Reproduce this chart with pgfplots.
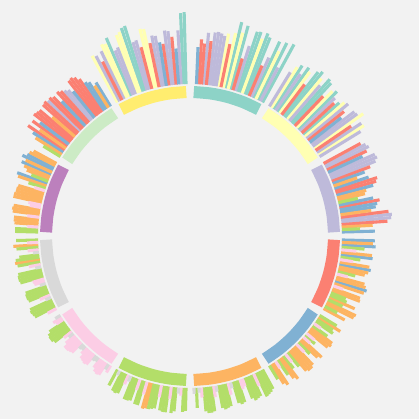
\documentclass[border=0pt]{standalone}
\usepackage{pgfplots}
\usepackage{pgfplotstable}
\pgfplotsset{compat=1.18}
\definecolor{bgc}{HTML}{F2F2F2}
\definecolor{cTeal}{HTML}{8DD3C7}
\definecolor{cLYel}{HTML}{FFFFB3}
\definecolor{cLav}{HTML}{BEBADA}
\definecolor{cSal}{HTML}{FB8072}
\definecolor{cBlue}{HTML}{80B1D3}
\definecolor{cOra}{HTML}{FDB462}
\definecolor{cGreen}{HTML}{B3DE69}
\definecolor{cPink}{HTML}{FCCDE5}
\definecolor{cGray}{HTML}{D9D9D9}
\definecolor{cPur}{HTML}{BC80BD}
\definecolor{cLGr}{HTML}{CCEBC5}
\definecolor{cYel}{HTML}{FFED6F}
% b = group start angle, i = bar slot, r = outer radius, c = colour index
\pgfplotstableread{
b i r c
60 1 218 0
60 2 190 2
60 3 216 0
60 4 205 1
60 5 214 0
60 6 195 2
60 7 185 3
60 8 214 0
60 9 217 0
60 10 210 1
60 11 216 0
60 12 215 0
60 13 199 2
60 14 185 3
60 15 218 0
60 16 210 1
60 17 220 0
60 18 208 1
60 19 196 3
60 20 206 1
60 21 203 2
60 22 205 2
60 23 206 2
60 24 205 2
60 25 196 3
60 26 204 2
60 27 193 3
60 28 197 3
60 29 189 4
30 1 200 2
30 2 206 1
30 3 205 2
30 4 195 3
30 5 212 1
30 6 207 2
30 7 206 2
30 8 192 4
30 9 198 3
30 10 206 2
30 11 204 1
30 12 200 0
30 13 196 3
30 14 200 2
30 15 206 0
30 16 203 1
30 17 193 3
30 18 208 0
30 19 210 0
30 20 199 2
30 21 205 1
30 22 211 0
30 23 208 0
30 24 190 3
30 25 203 1
30 26 206 0
30 27 196 2
30 28 204 0
30 29 200 1
30 30 192 2
0 1 185 4
0 2 170 6
0 3 183 5
0 4 198 3
0 5 202 2
0 6 203 2
0 7 200 3
0 8 183 5
0 9 188 4
0 10 190 4
0 11 193 3
0 12 187 4
0 13 172 6
0 14 180 5
0 15 182 5
0 16 190 4
0 17 194 3
0 18 196 3
0 19 188 4
0 20 177 5
0 21 186 4
0 22 193 3
0 23 200 2
0 24 203 2
0 25 202 2
0 26 190 4
0 27 196 3
0 28 200 2
0 29 198 2
0 30 194 3
-30 1 176 5
-30 2 166 6
-30 3 183 5
-30 4 184 5
-30 5 168 6
-30 6 180 5
-30 7 170 6
-30 8 168 6
-30 9 182 5
-30 10 181 5
-30 11 162 7
-30 12 183 5
-30 13 185 4
-30 14 183 5
-30 15 181 5
-30 16 163 7
-30 17 170 6
-30 18 179 5
-30 19 182 5
-30 20 184 4
-30 21 182 5
-30 22 165 7
-30 23 172 6
-30 24 184 4
-30 25 183 5
-30 26 167 7
-30 27 175 6
-30 28 186 4
-30 29 183 5
-30 30 185 4
-60 1 168 6
-60 2 175 5
-60 3 178 5
-60 4 160 7
-60 5 170 6
-60 6 176 5
-60 7 179 5
-60 8 168 6
-60 9 162 7
-60 10 170 6
-60 11 178 5
-60 12 180 5
-60 13 180 5
-60 14 178 5
-60 15 163 7
-60 16 168 6
-60 17 176 5
-60 18 179 5
-60 19 161 7
-60 20 165 6
-60 21 162 7
-60 22 177 5
-60 23 179 5
-60 24 178 5
-60 25 170 6
-60 26 160 7
-60 27 173 6
-60 28 171 6
-60 29 178 5
-60 30 172 6
-90 1 158 8
-90 2 172 6
-90 3 157 8
-90 4 162 7
-90 5 176 6
-90 6 178 6
-90 7 178 6
-90 8 177 6
-90 9 163 7
-90 10 158 8
-90 11 175 6
-90 12 177 6
-90 13 176 6
-90 14 175 6
-90 15 164 7
-90 16 158 8
-90 17 174 6
-90 18 176 6
-90 19 175 6
-90 20 162 7
-90 21 160 7
-90 22 174 6
-90 23 177 6
-90 24 176 6
-90 25 175 6
-90 26 165 7
-90 27 178 6
-90 28 177 6
-90 29 176 6
-90 30 174 6
-120 1 170 6
-120 2 157 8
-120 3 173 6
-120 4 174 6
-120 5 173 6
-120 6 162 7
-120 7 158 8
-120 8 176 6
-120 9 176 6
-120 10 175 6
-120 11 163 7
-120 12 177 6
-120 13 177 6
-120 14 165 7
-120 15 179 5
-120 16 178 5
-120 17 178 6
-120 18 177 6
-120 19 176 6
-120 20 164 7
-120 21 177 6
-120 22 178 6
-120 23 178 6
-120 24 164 7
-120 25 178 6
-120 26 176 6
-120 27 158 8
-120 28 160 7
-120 29 176 6
-120 30 175 6
-150 1 158 8
-150 2 162 7
-150 3 160 7
-150 4 170 6
-150 5 173 6
-150 6 174 6
-150 7 174 6
-150 8 172 6
-150 9 162 7
-150 10 158 8
-150 11 164 7
-150 12 168 7
-150 13 168 7
-150 14 167 7
-150 15 166 7
-150 16 158 8
-150 17 157 8
-150 18 160 7
-150 19 164 7
-150 20 165 7
-150 21 166 7
-150 22 165 7
-150 23 158 8
-150 24 157 8
-150 25 163 7
-150 26 166 7
-150 27 167 7
-150 28 166 7
-150 29 158 8
-150 30 160 7
-180 1 174 6
-180 2 163 7
-180 3 177 5
-180 4 174 6
-180 5 163 7
-180 6 158 8
-180 7 172 6
-180 8 176 6
-180 9 177 5
-180 10 175 6
-180 11 164 7
-180 12 158 8
-180 13 176 6
-180 14 177 6
-180 15 177 6
-180 16 176 6
-180 17 164 7
-180 18 163 7
-180 19 158 8
-180 20 174 6
-180 21 175 6
-180 22 175 6
-180 23 174 6
-180 24 163 7
-180 25 158 8
-180 26 176 6
-180 27 177 6
-180 28 176 6
-180 29 175 6
-180 30 162 7
150 1 178 5
150 2 181 5
150 3 182 4
150 4 186 4
150 5 181 5
150 6 184 4
150 7 180 5
150 8 176 5
150 9 170 6
150 10 184 4
150 11 182 5
150 12 170 6
150 13 163 7
150 14 179 5
150 15 180 5
150 16 180 5
150 17 181 5
150 18 181 5
150 19 165 7
150 20 163 7
150 21 179 5
150 22 180 5
150 23 179 5
150 24 164 7
150 25 177 5
150 26 177 5
150 27 176 5
150 28 163 7
150 29 175 6
150 30 175 6
120 1 180 4
120 2 178 5
120 3 184 4
120 4 186 4
120 5 192 3
120 6 196 3
120 7 198 3
120 8 197 3
120 9 186 4
120 10 190 2
120 11 192 2
120 12 194 3
120 13 196 3
120 14 186 4
120 15 195 3
120 16 197 3
120 17 196 2
120 18 198 3
120 19 197 3
120 20 182 5
120 21 196 3
120 22 197 3
120 23 198 3
120 24 188 4
120 25 195 3
120 26 184 5
120 27 196 3
120 28 188 4
120 29 183 5
120 30 172 6
90 1 224 0
90 2 223 0
90 3 206 2
90 4 188 4
90 5 200 3
90 6 206 2
90 7 207 2
90 8 194 3
90 9 196 4
90 10 203 2
90 11 204 2
90 12 197 3
90 13 212 1
90 14 213 1
90 15 195 3
90 16 203 2
90 17 202 2
90 18 220 0
90 19 219 0
90 20 216 1
90 21 214 1
90 22 202 2
90 23 200 2
90 24 215 0
90 25 210 1
90 26 211 1
90 27 205 2
90 28 195 3
90 29 203 2
90 30 205 1
}\bars
\newcommand\ang{(\thisrow{b}+1.5+(\thisrow{i}-1)*0.931)}
\pgfplotsset{
  barq/.style 2 args={
    draw=#2, line width=3.1pt, line cap=butt, mark=none,
    restrict expr to domain={\thisrow{c}}{#1:#1},
    quiver={
      u={(\thisrow{r}-152)*cos\ang},
      v={(\thisrow{r}-152)*sin\ang},
      every arrow/.append style={draw=#2, line width=3.1pt, line cap=butt}},
  },
  arc/.style={data cs=polar, smooth, line width=12pt, line cap=butt, draw=#1, mark=none},
}
\begin{document}
\begin{tikzpicture}
\begin{axis}[
  x=1pt, y=1pt,
  xmin=-190, xmax=229, ymin=-183, ymax=236,
  axis line style={draw=none}, ticks=none,
  axis background/.style={fill=bgc},
]
\addplot[barq={0}{cTeal}] table[x expr={152*cos\ang}, y expr={152*sin\ang}] {\bars};
\addplot[barq={1}{cLYel}] table[x expr={152*cos\ang}, y expr={152*sin\ang}] {\bars};
\addplot[barq={2}{cLav}] table[x expr={152*cos\ang}, y expr={152*sin\ang}] {\bars};
\addplot[barq={3}{cSal}] table[x expr={152*cos\ang}, y expr={152*sin\ang}] {\bars};
\addplot[barq={4}{cBlue}] table[x expr={152*cos\ang}, y expr={152*sin\ang}] {\bars};
\addplot[barq={5}{cOra}] table[x expr={152*cos\ang}, y expr={152*sin\ang}] {\bars};
\addplot[barq={6}{cGreen}] table[x expr={152*cos\ang}, y expr={152*sin\ang}] {\bars};
\addplot[barq={7}{cPink}] table[x expr={152*cos\ang}, y expr={152*sin\ang}] {\bars};
\addplot[barq={8}{cGray}] table[x expr={152*cos\ang}, y expr={152*sin\ang}] {\bars};
% inner group arcs
\addplot[arc=cTeal] coordinates {(61.5,144) (68.25,144) (75,144) (81.75,144) (88.5,144)};
\addplot[arc=cLYel] coordinates {(31.5,144) (38.25,144) (45,144) (51.75,144) (58.5,144)};
\addplot[arc=cLav] coordinates {(1.5,144) (8.25,144) (15,144) (21.75,144) (28.5,144)};
\addplot[arc=cSal] coordinates {(-28.5,144) (-21.75,144) (-15,144) (-8.25,144) (-1.5,144)};
\addplot[arc=cBlue] coordinates {(-58.5,144) (-51.75,144) (-45,144) (-38.25,144) (-31.5,144)};
\addplot[arc=cOra] coordinates {(-88.5,144) (-81.75,144) (-75,144) (-68.25,144) (-61.5,144)};
\addplot[arc=cGreen] coordinates {(-118.5,144) (-111.75,144) (-105,144) (-98.25,144) (-91.5,144)};
\addplot[arc=cPink] coordinates {(-148.5,144) (-141.75,144) (-135,144) (-128.25,144) (-121.5,144)};
\addplot[arc=cGray] coordinates {(-178.5,144) (-171.75,144) (-165,144) (-158.25,144) (-151.5,144)};
\addplot[arc=cPur] coordinates {(151.5,144) (158.25,144) (165,144) (171.75,144) (178.5,144)};
\addplot[arc=cLGr] coordinates {(121.5,144) (128.25,144) (135,144) (141.75,144) (148.5,144)};
\addplot[arc=cYel] coordinates {(91.5,144) (98.25,144) (105,144) (111.75,144) (118.5,144)};
\end{axis}
\end{tikzpicture}
\end{document}
